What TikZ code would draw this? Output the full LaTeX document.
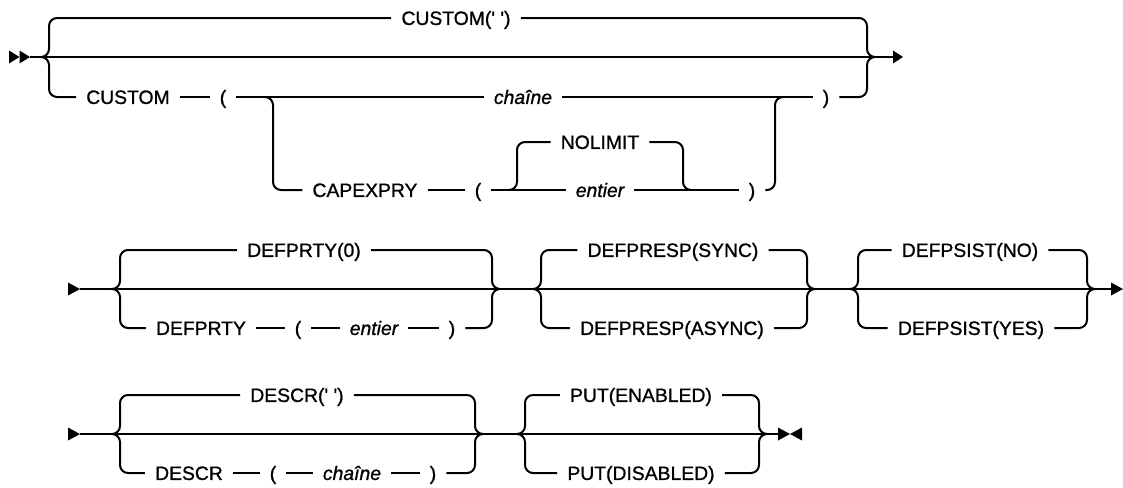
\documentclass[tikz,border=0pt]{standalone}
\usepackage{fontspec}
\newfontfamily\rrfont{Liberation Sans}[FakeBold=1]
\usetikzlibrary{calc}
\begin{document}
\begin{tikzpicture}[x=0.75pt,y=-0.75pt,
  rr/.style={line width=1.5pt, rounded corners=6pt},
  kw/.style={font=\rrfont\fontsize{14.5}{16}\selectfont, inner xsep=7.5pt, inner ysep=0pt, text height=10.4pt, text depth=0pt},
  var/.style={kw, font=\rrfont\fontsize{14.5}{16}\selectfont\itshape}]
\useasboundingbox (0,0) rectangle (1123,487);

% ---------------- Row 1 ----------------
\coordinate (a1) at (30,57);
\coordinate (L1) at (41,57);
\coordinate (R1) at (875,57);
\coordinate (e1) at (893,57);
\coordinate (sp1) at (265,97);
\coordinate (j1) at (783,97);
\coordinate (n1) at (509,190);
\coordinate (n2) at (691,190);

\node[kw]  (t1)  at (456,18)  {CUSTOM(' ')};
\node[kw]  (c1)  at (128,97)  {CUSTOM};
\node[kw]  (lp1) at (223,97)  {(};
\node[var] (ch1) at (523,97)  {chaîne};
\node[kw]  (rp1) at (826,97)  {)};
\node[kw]  (cap) at (365,190) {CAPEXPRY};
\node[kw]  (lp2) at (478,190) {(};
\node[kw]  (nl)  at (600,142) {NOLIMIT};
\node[var] (en1) at (600,190) {entier};
\node[kw]  (rp2) at (752,190) {)};

\fill (9,50.5) -- (19.5,57) -- (9,63.5) -- cycle;
\fill (19.5,50.5) -- (30,57) -- (19.5,63.5) -- cycle;
\draw[rr] (a1) -- (L1) -- (R1) -- (e1);
\fill (893,50.5) -- (903,57) -- (893,63.5) -- cycle;

\draw[rr] (L1) -- ++(8,0) |- (t1.west);
\draw[rr] (t1.east) -| ($(R1)+(-8,0)$) -- (R1);
\draw[rr] (L1) -- ++(8,0) |- (c1.west);
\draw[rr] (c1.east) -- (lp1.west);
\draw[rr] (lp1.east) -- (ch1.west);
\draw[rr] (ch1.east) -- (rp1.west);
\draw[rr] (rp1.east) -| ($(R1)+(-8,0)$) -- (R1);
\draw[rr] (sp1) -- ++(8,0) |- (cap.west);
\draw[rr] (cap.east) -- (lp2.west);
\draw[rr] (lp2.east) -- (en1.west);
\draw[rr] (en1.east) -- (rp2.west);
\draw[rr] (n1) -- ++(8,0) |- (nl.west);
\draw[rr] (nl.east) -| ($(n2)+(-8,0)$) -- (n2);
\draw[rr] (rp2.east) -| ($(j1)+(-8,0)$) -- (j1);

% ---------------- Row 2 ----------------
\coordinate (a2) at (80,289);
\coordinate (L2) at (112,289);
\coordinate (R2) at (500,289);
\coordinate (L3) at (533,289);
\coordinate (R3) at (815,289);
\coordinate (L4) at (850,289);
\coordinate (R4) at (1095,289);
\coordinate (e2) at (1111,289);

\node[kw]  (dp0)   at (304,250) {DEFPRTY(0)};
\node[kw]  (dp)    at (201,328) {DEFPRTY};
\node[kw]  (lp3)   at (298,328) {(};
\node[var] (en2)   at (374,328) {entier};
\node[kw]  (rp3)   at (452,328) {)};
\node[kw]  (sync)  at (673,250) {DEFPRESP(SYNC)};
\node[kw]  (async) at (672,328) {DEFPRESP(ASYNC)};
\node[kw]  (no)    at (970,250) {DEFPSIST(NO)};
\node[kw]  (yes)   at (971,328) {DEFPSIST(YES)};

\fill (68,282.5) -- (80,289) -- (68,295.5) -- cycle;
\draw[rr] (a2) -- (L2) -- (R2) -- (L3) -- (R3) -- (L4) -- (R4) -- (e2);
\fill (1111,282.5) -- (1123,289) -- (1111,295.5) -- cycle;

\draw[rr] (L2) -- ++(8,0) |- (dp0.west);
\draw[rr] (dp0.east) -| ($(R2)+(-8,0)$) -- (R2);
\draw[rr] (L2) -- ++(8,0) |- (dp.west);
\draw[rr] (dp.east) -- (lp3.west);
\draw[rr] (lp3.east) -- (en2.west);
\draw[rr] (en2.east) -- (rp3.west);
\draw[rr] (rp3.east) -| ($(R2)+(-8,0)$) -- (R2);

\draw[rr] (L3) -- ++(8,0) |- (sync.west);
\draw[rr] (sync.east) -| ($(R3)+(-8,0)$) -- (R3);
\draw[rr] (L3) -- ++(8,0) |- (async.west);
\draw[rr] (async.east) -| ($(R3)+(-8,0)$) -- (R3);

\draw[rr] (L4) -- ++(8,0) |- (no.west);
\draw[rr] (no.east) -| ($(R4)+(-8,0)$) -- (R4);
\draw[rr] (L4) -- ++(8,0) |- (yes.west);
\draw[rr] (yes.east) -| ($(R4)+(-8,0)$) -- (R4);

% ---------------- Row 3 ----------------
\coordinate (a3) at (80,434);
\coordinate (L5) at (112,434);
\coordinate (R5) at (483,434);
\coordinate (L6) at (517,434);
\coordinate (R6) at (767,434);
\coordinate (e3) at (778,434);

\node[kw]  (ds0) at (297,395) {DESCR(' ')};
\node[kw]  (ds)  at (189,473) {DESCR};
\node[kw]  (lp4) at (273,473) {(};
\node[var] (ch2) at (352,473) {chaîne};
\node[kw]  (rp4) at (433,473) {)};
\node[kw]  (pe)  at (641,395) {PUT(ENABLED)};
\node[kw]  (pd)  at (641,473) {PUT(DISABLED)};

\fill (68,427.5) -- (80,434) -- (68,440.5) -- cycle;
\draw[rr] (a3) -- (L5) -- (R5) -- (L6) -- (R6) -- (e3);
\fill (778,427.5) -- (790,434) -- (778,440.5) -- cycle;
\fill (802,427.5) -- (790,434) -- (802,440.5) -- cycle;

\draw[rr] (L5) -- ++(8,0) |- (ds0.west);
\draw[rr] (ds0.east) -| ($(R5)+(-8,0)$) -- (R5);
\draw[rr] (L5) -- ++(8,0) |- (ds.west);
\draw[rr] (ds.east) -- (lp4.west);
\draw[rr] (lp4.east) -- (ch2.west);
\draw[rr] (ch2.east) -- (rp4.west);
\draw[rr] (rp4.east) -| ($(R5)+(-8,0)$) -- (R5);

\draw[rr] (L6) -- ++(8,0) |- (pe.west);
\draw[rr] (pe.east) -| ($(R6)+(-8,0)$) -- (R6);
\draw[rr] (L6) -- ++(8,0) |- (pd.west);
\draw[rr] (pd.east) -| ($(R6)+(-8,0)$) -- (R6);
\end{tikzpicture}
\end{document}
